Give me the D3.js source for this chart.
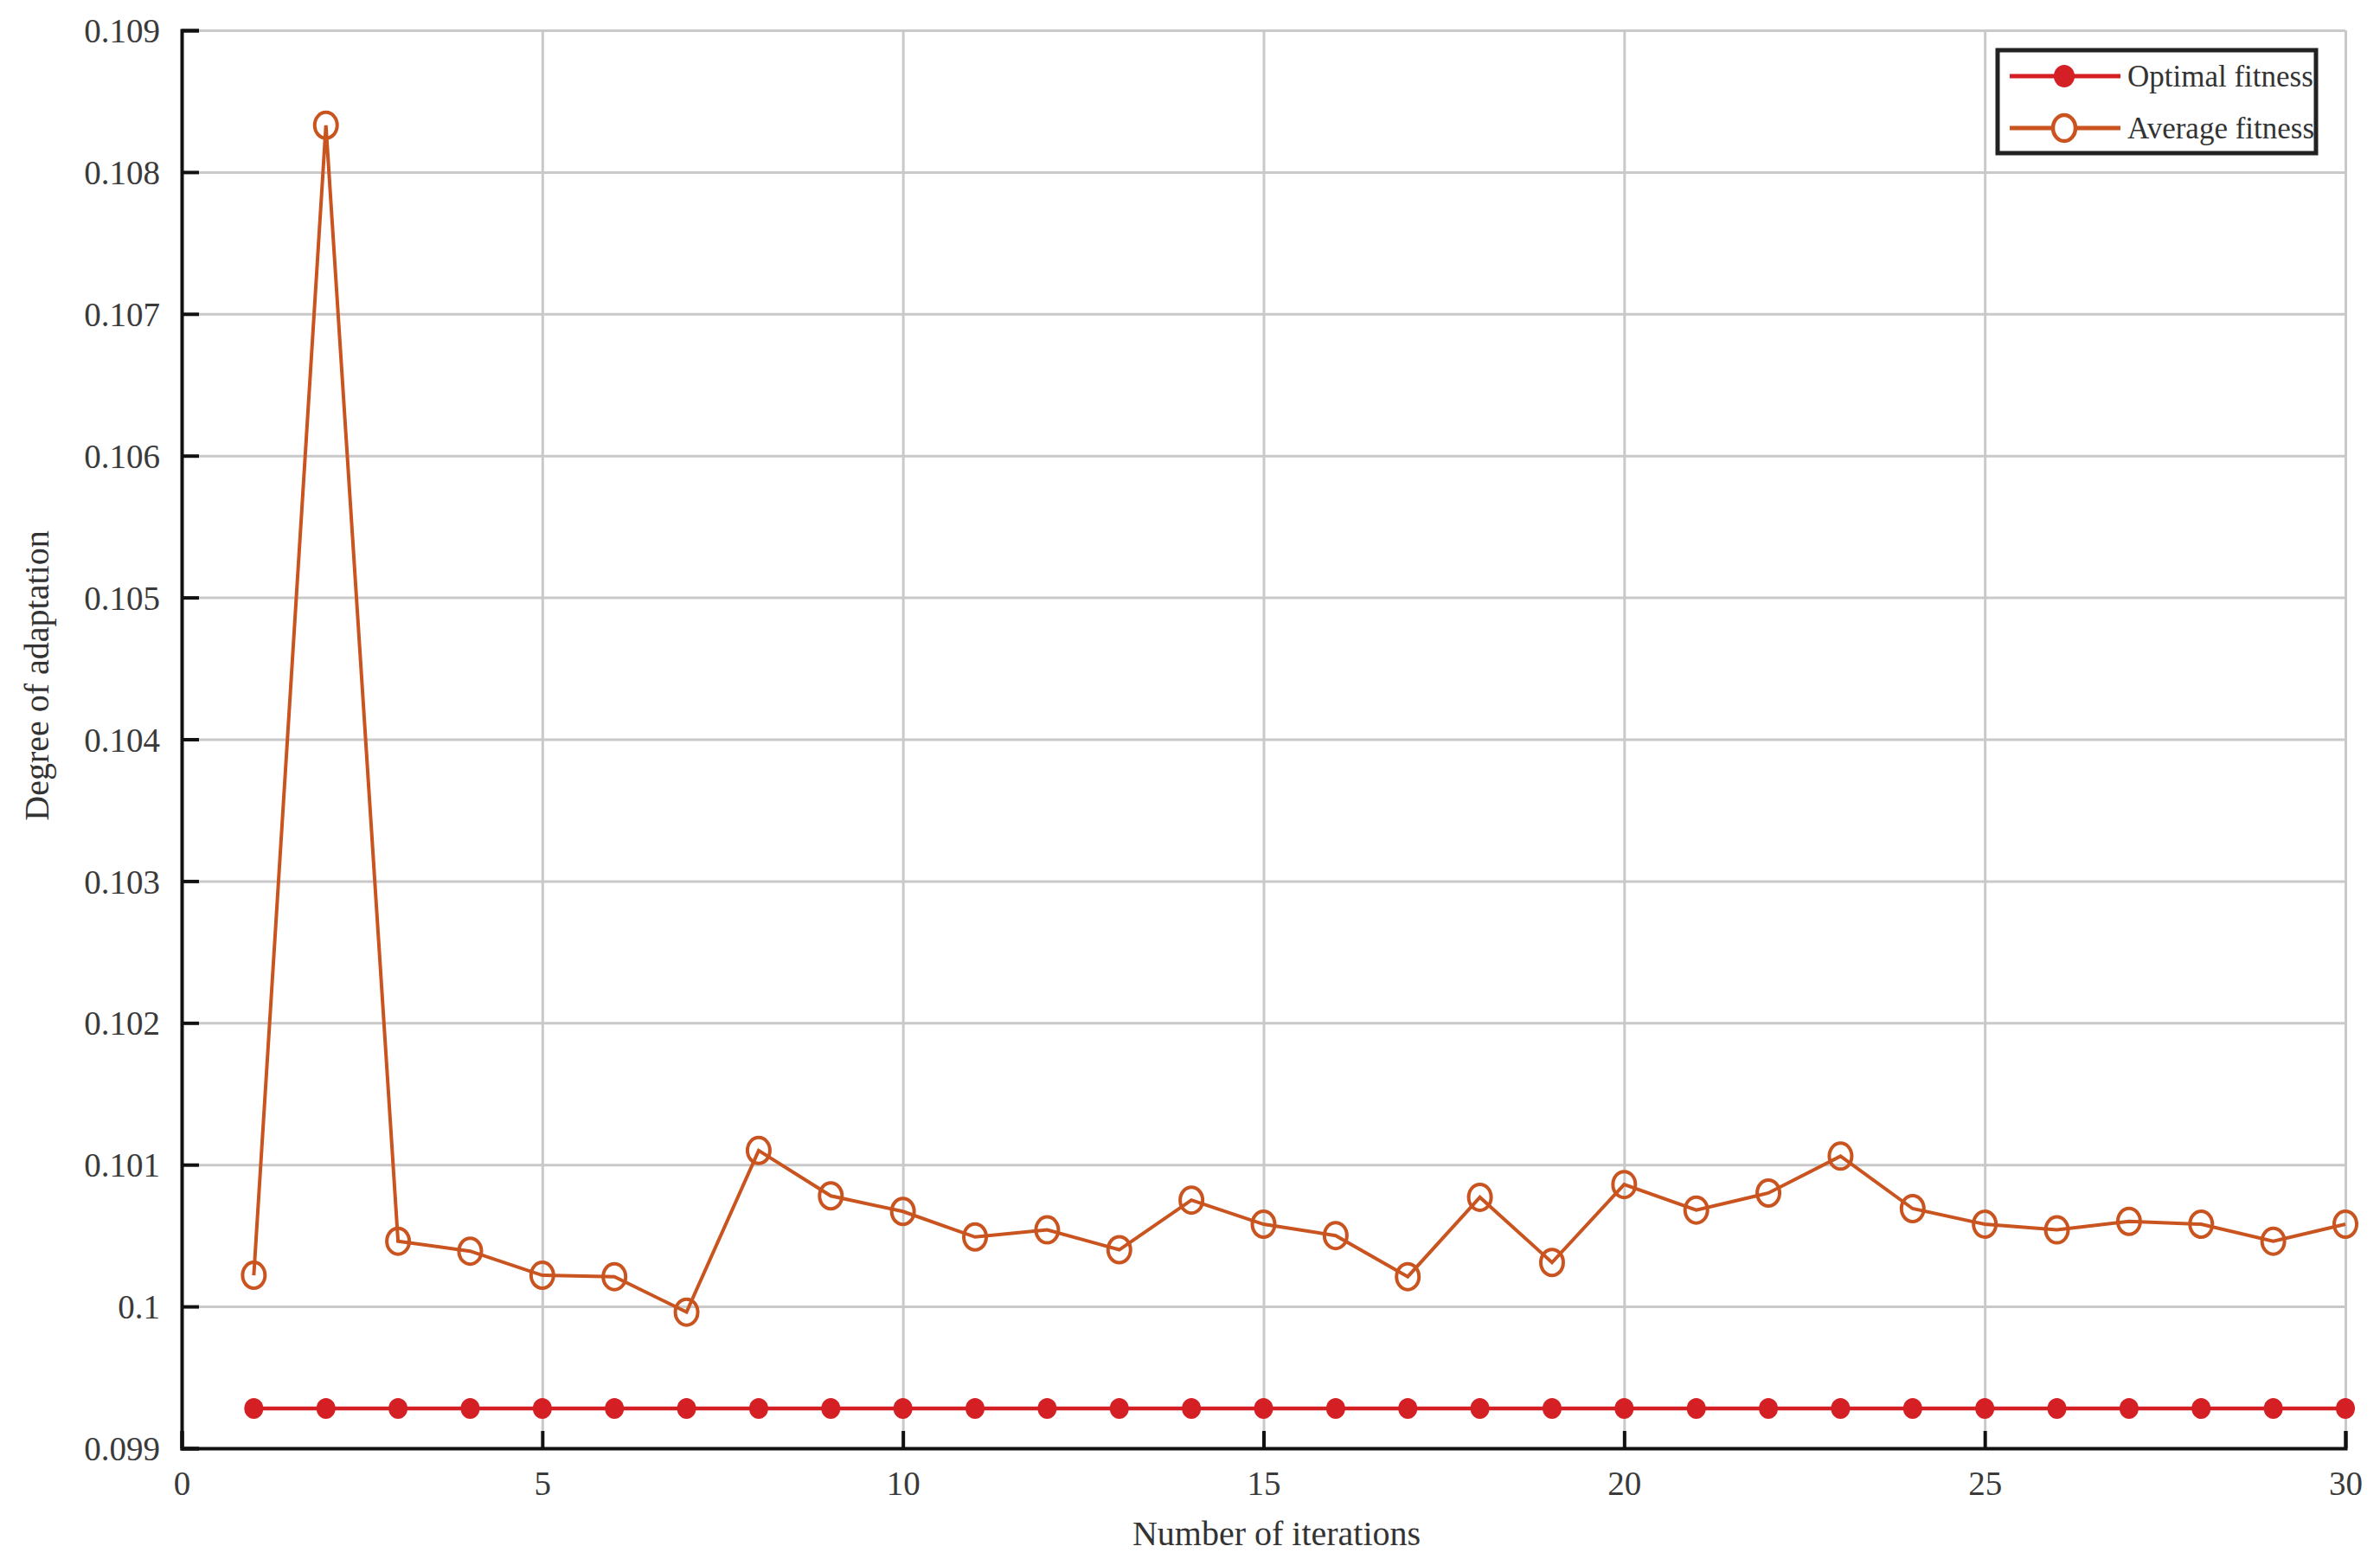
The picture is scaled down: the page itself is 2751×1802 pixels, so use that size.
<!DOCTYPE html>
<html>
<head>
<meta charset="utf-8">
<script src="https://cdn.jsdelivr.net/npm/d3@7"></script>
<style>
  body { margin: 0; background: #fff; }
  svg { display: block; font-family: "Liberation Serif", "DejaVu Serif", serif; }
  .tick text { fill: #3a3a3a; }
  .grid line { stroke: #c9c9c9; stroke-width: 3; }
  .grid .domain { display: none; }
</style>
</head>
<body>
<div id="chart-area"><svg></svg></div>
<script>
const chartSize = { width: 2751, height: 1802 };
const margin = { left: 210, right: 40, top: 35, bottom: 128 };
const height = chartSize.height - margin.top - margin.bottom;
const width = chartSize.width - margin.left - margin.right;

const iterations = d3.range(1, 31);
const optimalFitness = [
  0.09928, 0.09928, 0.09928, 0.09928, 0.09928, 0.09928, 0.09928, 0.09928, 0.09928, 0.09928,
  0.09928, 0.09928, 0.09928, 0.09928, 0.09928, 0.09928, 0.09928, 0.09928, 0.09928, 0.09928,
  0.09928, 0.09928, 0.09928, 0.09928, 0.09928, 0.09928, 0.09928, 0.09928, 0.09928, 0.09928
];
const averageFitness = [
  0.10022, 0.10833, 0.10046, 0.10039, 0.10022, 0.10021, 0.09996, 0.1011, 0.10078, 0.10067,
  0.10049, 0.10054, 0.1004, 0.10075, 0.10058, 0.1005, 0.10021, 0.10077, 0.10031, 0.10086,
  0.10068, 0.1008, 0.10106, 0.10069, 0.10058, 0.10054, 0.1006, 0.10058, 0.10046, 0.10058
];
const xTicks = [0, 5, 10, 15, 20, 25, 30];
const yTicks = [0.099, 0.1, 0.101, 0.102, 0.103, 0.104, 0.105, 0.106, 0.107, 0.108, 0.109];
const seriesNames = ["Optimal fitness", "Average fitness"];

const colors = { optimal: "#d41f24", average: "#c9541f" };

const svg = d3
  .select("#chart-area svg")
  .attr("width", chartSize.width)
  .attr("height", chartSize.height);

svg.append("rect")
  .attr("width", chartSize.width)
  .attr("height", chartSize.height)
  .attr("fill", "#fff");

const g = svg.append("g").attr("transform", `translate(${margin.left},${margin.top})`);

const x = d3.scaleLinear().domain([0, 30]).range([0, width]);
const y = d3.scaleLinear().domain([0.099, 0.109]).range([height, 0]);

// grid
g.append("g")
  .attr("class", "grid")
  .call(d3.axisLeft(y).tickValues(yTicks).tickSize(-width).tickFormat(""));

g.append("g")
  .attr("class", "grid")
  .attr("transform", `translate(0,${height})`)
  .call(d3.axisBottom(x).tickValues(xTicks.filter(t => t > 0)).tickSize(-height).tickFormat(""));

// axes
const yAxis = g.append("g")
  .call(d3.axisLeft(y).tickValues(yTicks).tickSize(-20).tickPadding(25).tickFormat(d3.format("~g")));

const xAxis = g.append("g")
  .attr("transform", `translate(0,${height})`)
  .call(d3.axisBottom(x).tickValues(xTicks).tickSize(-20).tickPadding(26).tickFormat(d3.format("d")));

[yAxis, xAxis].forEach(ax => {
  ax.select(".domain").attr("stroke", "#111").attr("stroke-width", 4);
  ax.selectAll(".tick line").attr("stroke", "#111").attr("stroke-width", 4);
  ax.selectAll(".tick text").attr("font-size", 39).attr("font-family", "Liberation Serif");
});
yAxis.selectAll(".tick text").attr("dy", "0.35em");

// axis titles
g.append("text")
  .attr("x", width / 2 + 15)
  .attr("y", height + 112)
  .attr("text-anchor", "middle")
  .attr("font-size", 40)
  .attr("fill", "#333")
  .text("Number of iterations");

g.append("text")
  .attr("transform", "rotate(-90)")
  .attr("x", -(781 - margin.top))
  .attr("y", -154)
  .attr("text-anchor", "middle")
  .attr("font-size", 40)
  .attr("fill", "#333")
  .text("Degree of adaptation");

// series
const line = values => d3.line()
  .x((d, i) => x(iterations[i]))
  .y(d => y(d))(values);

g.append("path")
  .attr("d", line(optimalFitness))
  .attr("fill", "none")
  .attr("stroke", colors.optimal)
  .attr("stroke-width", 4.5);

g.append("path")
  .attr("d", line(averageFitness))
  .attr("fill", "none")
  .attr("stroke", colors.average)
  .attr("stroke-width", 4);

g.selectAll(".opt-dot")
  .data(optimalFitness)
  .enter()
  .append("ellipse")
  .attr("cx", (d, i) => x(iterations[i]))
  .attr("cy", d => y(d))
  .attr("rx", 11)
  .attr("ry", 12)
  .attr("fill", colors.optimal);

g.selectAll(".avg-dot")
  .data(averageFitness)
  .enter()
  .append("ellipse")
  .attr("cx", (d, i) => x(iterations[i]))
  .attr("cy", d => y(d))
  .attr("rx", 13)
  .attr("ry", 15)
  .attr("fill", "none")
  .attr("stroke", colors.average)
  .attr("stroke-width", 4);

// legend
const legend = svg.append("g").attr("transform", "translate(2309,58)");

legend.append("rect")
  .attr("width", 368)
  .attr("height", 119)
  .attr("fill", "#fff")
  .attr("stroke", "#222")
  .attr("stroke-width", 5);

const rows = legend.selectAll(".row")
  .data(seriesNames)
  .enter()
  .append("g")
  .attr("transform", (d, i) => `translate(0,${i === 0 ? 30 : 90})`);

rows.append("line")
  .attr("x1", 14)
  .attr("x2", 142)
  .attr("stroke", (d, i) => (i === 0 ? colors.optimal : colors.average))
  .attr("stroke-width", 5);

rows.append("ellipse")
  .attr("cx", 77)
  .attr("rx", (d, i) => (i === 0 ? 12 : 13))
  .attr("ry", (d, i) => (i === 0 ? 13 : 15))
  .attr("fill", (d, i) => (i === 0 ? colors.optimal : "#fff"))
  .attr("stroke", (d, i) => (i === 0 ? "none" : colors.average))
  .attr("stroke-width", 4.5);

rows.append("text")
  .attr("x", 150)
  .attr("dy", "0.35em")
  .attr("font-size", 35)
  .attr("fill", "#333")
  .text(d => d);
</script>
</body>
</html>
